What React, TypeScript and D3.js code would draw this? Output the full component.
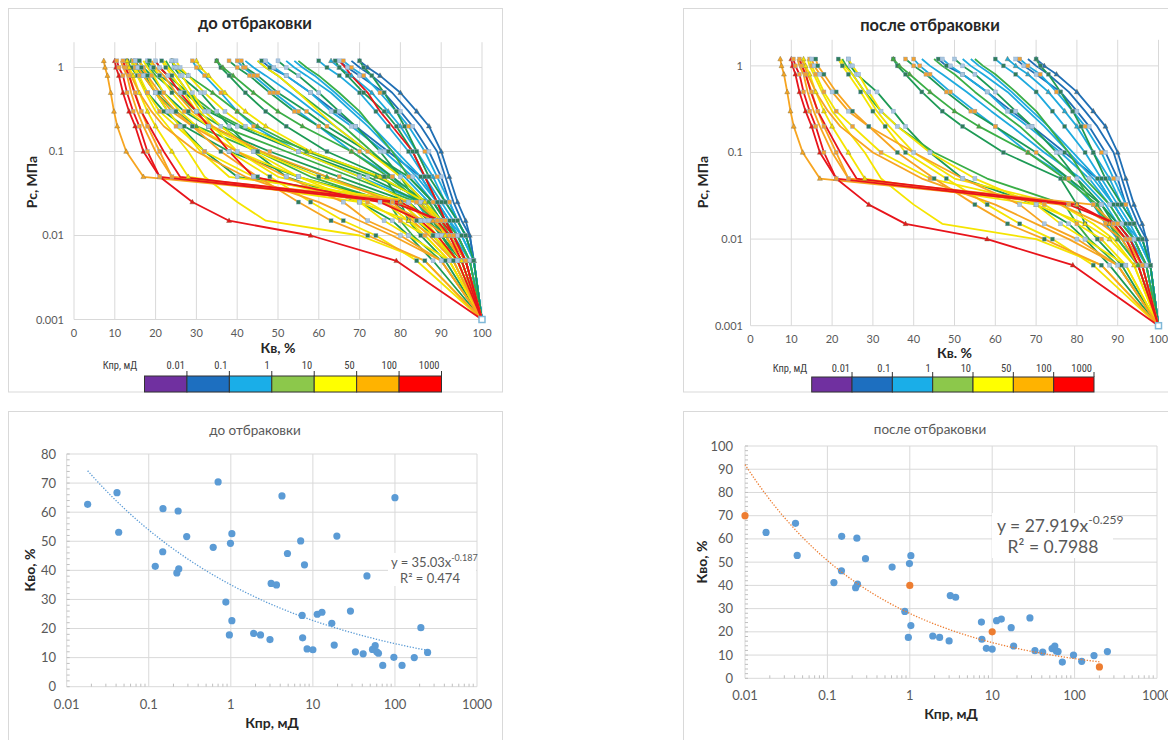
import React from "react";
import * as d3 from "d3";

// ---------------- DATA ----------------
const P_LEVELS = [1.2, 1, 0.8, 0.5, 0.3, 0.2, 0.1, 0.05, 0.025, 0.015, 0.01, 0.005, 0.001];
const KV_TICKS = [0, 10, 20, 30, 40, 50, 60, 70, 80, 90, 100];
const PC_TICKS = [1, 0.1, 0.01, 0.001];
const KPR_CLASS_LABELS = ["0.01", "0.1", "1", "10", "50", "100", "1000"];

// permeability class: 1 dark blue, 2 light blue, 3 green, 4 yellow, 5 orange, 6 red
const KEPT_CURVE_CLASS = [
  1, 1, 1, 1,
  2, 2, 2, 2, 2, 2, 2, 2,
  3, 3, 3, 3, 3, 3, 3, 3, 3,
  4, 4, 4, 4, 4, 4,
  5, 5, 5, 5, 5, 5,
  6, 6, 6,
];
const KEPT_CURVE_KV = [
  [65, 67, 70, 76, 80, 83, 87, 90, 92, 94, 96, 98, 100],
  [68, 70, 73, 78, 82, 85, 89, 91, 93, 95, 97, 98, 100],
  [46, 48, 52, 58, 64, 69, 77, 85, 89, 92, 94, 97, 100],
  [70, 72, 75, 80, 84, 87, 90, 92, 94, 96, 97, 98, 100],
  [40, 41.5, 44, 49, 55, 60, 68, 78, 84, 87, 90, 95, 100],
  [42, 44, 47, 53, 59, 64, 72, 81, 87, 90, 93, 97, 100],
  [47, 49, 52, 58, 63, 68, 76, 83, 88, 91, 94, 97, 100],
  [52, 54, 57, 63, 68, 72, 78, 84, 89, 92, 95, 98, 100],
  [60, 62, 65, 70, 74, 77, 82, 86, 90, 93, 95, 98, 100],
  [63, 65, 68, 73, 77, 80, 84, 88, 91, 94, 96, 98, 100],
  [66, 68, 71, 75, 79, 82, 86, 89, 92, 94, 96, 98, 100],
  [54, 56, 59, 64, 69, 73, 79, 85, 89, 92, 94, 97, 100],
  [24, 24.5, 26, 31, 35, 38, 44, 52, 70, 78, 82, 88, 100],
  [22.5, 23.5, 25, 28, 32, 36, 45, 58, 77, 80, 83, 90, 100],
  [35, 36, 38, 42, 47, 52, 62, 76, 80, 82, 85, 91, 100],
  [35, 36.5, 39, 44, 50, 56, 68, 77, 85, 88, 90, 95, 100],
  [38, 40, 43, 48, 54, 60, 70, 78, 86, 90, 93, 96, 100],
  [45, 47, 50, 55, 61, 66, 73, 80, 84, 88, 91, 95, 100],
  [50, 52, 55, 60, 65, 69, 75, 80, 86, 89, 92, 96, 100],
  [55, 57, 60, 65, 70, 73, 78, 82, 88, 91, 94, 97, 100],
  [70, 71, 73, 76, 79, 81, 84, 87, 91, 94, 96, 98, 100],
  [13, 13.5, 14.5, 16, 18, 20, 24, 28, 70, 82, 88, 94, 100],
  [14.5, 15, 16, 18, 21, 25, 32, 44, 72, 80, 86, 92, 100],
  [22, 23, 25, 28, 31, 34, 40, 50, 76, 84, 89, 94, 100],
  [24, 25, 26.5, 29, 32, 36, 44, 55, 70, 76, 82, 92, 100],
  [14, 14.5, 15.5, 17.5, 20, 23, 28, 32, 40, 47, 70, 86, 100],
  [21.5, 22.5, 24, 27, 30, 33, 38, 48, 58, 66, 74, 84, 100],
  [7.3, 7.6, 8.2, 9, 9.8, 10.6, 12.8, 17, 80, 88, 92, 96, 100],
  [12, 12.5, 13.5, 15, 16.5, 18, 21, 24, 84, 89, 92, 96, 100],
  [12.5, 13.2, 14, 16, 19, 22, 30, 42, 60, 70, 78, 90, 100],
  [15, 15.6, 17, 20, 24, 29, 40, 52, 66, 72, 80, 90, 100],
  [11.5, 12, 13, 14, 15.5, 17, 20, 24, 76, 86, 91, 95, 100],
  [16, 16.5, 18, 21, 25, 29, 36, 45, 55, 63, 72, 86, 100],
  [10, 10.3, 11, 12, 13.5, 15, 17, 21, 29, 38, 58, 79, 100],
  [10.5, 11, 12, 13, 14.5, 16, 18, 21, 78, 90, 93, 96, 100],
  [12, 12.6, 13.5, 14.8, 16.5, 18.5, 22, 26, 80, 89, 92, 95, 100],
];

const REJECTED_CURVE_CLASS = [6, 6, 3, 3, 3, 3, 3, 4, 4, 3, 2, 3, 4, 5, 3, 4, 3, 4, 3, 4];
const REJECTED_CURVE_KV = [
  [20, 21, 23, 26, 30, 33, 38, 44, 75, 85, 89, 94, 100],
  [65, 66.5, 68, 72, 75, 78, 83, 86, 89, 91, 93, 96, 100],
  [13, 14, 15.5, 18, 22, 27, 38, 55, 78, 84, 88, 93, 100],
  [14, 15, 17, 20, 25, 30, 45, 62, 80, 85, 88, 94, 100],
  [16, 17, 19, 22, 27, 33, 48, 65, 82, 87, 90, 95, 100],
  [17.5, 18.5, 20, 25, 30, 36, 52, 68, 84, 88, 91, 95, 100],
  [18, 19, 21, 27, 33, 40, 55, 72, 85, 88, 91, 95, 100],
  [17, 18, 19.5, 22, 26, 30, 40, 55, 76, 82, 86, 92, 100],
  [18.5, 19.5, 21, 24, 28, 33, 45, 60, 80, 85, 88, 93, 100],
  [24, 25, 28, 34, 40, 45, 57, 74, 87, 90, 92, 96, 100],
  [29, 30, 32, 36, 40, 44, 55, 70, 85, 89, 92, 96, 100],
  [20, 21, 23, 28, 34, 41, 58, 75, 86, 89, 92, 96, 100],
  [25, 26, 28, 32, 37, 42, 55, 70, 82, 86, 89, 94, 100],
  [19, 20, 22, 25, 29, 34, 46, 62, 78, 83, 87, 93, 100],
  [64, 65, 67, 71, 76, 79, 83, 86, 89, 91, 93, 96, 100],
  [30, 31, 33, 37, 42, 47, 58, 75, 86, 89, 91, 95, 100],
  [41, 42, 45, 50, 57, 62, 72, 82, 88, 91, 93, 96, 100],
  [45, 47, 50, 55, 60, 64, 72, 80, 86, 90, 93, 96, 100],
  [15, 16, 17.5, 20, 23, 26, 32, 40, 82, 87, 90, 94, 100],
  [16, 17, 18, 20, 23, 26, 31, 38, 85, 89, 91, 95, 100],
];

const KPR_TICKS = [0.01, 0.1, 1, 10, 100, 1000];
const KVO_TICKS_BEFORE = [0, 10, 20, 30, 40, 50, 60, 70, 80];
const KVO_TICKS_AFTER = [0, 10, 20, 30, 40, 50, 60, 70, 80, 90, 100];

const BEFORE_KPR = [0.018, 0.041, 0.043, 0.12, 0.149, 0.148, 0.228, 0.22, 0.232, 0.29, 0.61, 0.7, 0.87, 0.99, 1.03, 1.03, 0.96, 1.9, 2.3, 3.0, 3.1, 3.6, 4.2, 4.9, 7.1, 7.9, 7.4, 7.5, 8.5, 10, 11.3, 12.9, 17, 18.2, 19.6, 28.7, 33, 41, 45.6, 53.3, 57.5, 60, 63, 71, 97, 100, 122, 172, 207, 250];
const BEFORE_KVO = [62.7, 66.7, 53.1, 41.4, 61.2, 46.4, 60.4, 39.1, 40.5, 51.6, 47.9, 70.4, 29.1, 49.3, 52.6, 22.7, 17.8, 18.3, 17.8, 16.2, 35.5, 35.0, 65.6, 45.8, 50.1, 41.9, 24.5, 16.8, 13.0, 12.7, 24.9, 25.6, 21.8, 14.3, 51.8, 26.0, 12.0, 11.3, 38.1, 12.8, 14.1, 12.0, 11.5, 7.3, 10.1, 65.0, 7.3, 10.0, 20.3, 11.8];

const AFTER_KPR = [0.018, 0.041, 0.043, 0.12, 0.149, 0.148, 0.228, 0.22, 0.232, 0.29, 0.61, 0.87, 0.99, 1.03, 1.03, 0.96, 1.9, 2.3, 3.0, 3.1, 3.6, 7.4, 7.5, 8.5, 10, 11.3, 12.9, 17, 18.2, 28.7, 33, 41, 53.3, 57.5, 60, 63, 71, 97, 122, 172, 250];
const AFTER_KVO = [62.8, 66.7, 52.9, 41.2, 61.1, 46.3, 60.3, 39.0, 40.5, 51.5, 47.9, 28.8, 49.4, 52.8, 22.7, 17.6, 18.2, 17.6, 16.1, 35.6, 34.9, 24.2, 16.8, 12.9, 12.6, 24.8, 25.5, 21.8, 13.9, 26.0, 11.9, 11.3, 12.8, 13.9, 11.8, 11.5, 7.0, 10.0, 7.3, 9.8, 11.5];
const ADDED_KPR = [0.01, 1, 10, 200];
const ADDED_KVO = [70, 40, 20, 4.9];

const BEFORE_TREND = { a: 35.03, b: -0.187, from: 0.018, to: 250 };
const AFTER_TREND = { a: 27.919, b: -0.259, from: 0.01, to: 200 };

// ---------------- STYLE ----------------
const FONT = "Lato, 'Open Sans', 'Liberation Sans', sans-serif";
const NARROW = "'Liberation Sans Narrow', 'Roboto Condensed', Lato, sans-serif";
const GRID = "#d9d9d9";
const LABEL = "#595959";
const TITLE = "#262626";
const BAR_FILL = ["#7030a0", "#1d6fc0", "#1aaee8", "#8cc84b", "#ffff00", "#ffb300", "#ff0000"];

function lineColor(cls: number, i: number) {
  switch (cls) {
    case 1: return "#1f6fb5";
    case 2: return "#1eaade";
    case 3: return i % 2 === 0 ? "#1d9a55" : "#3aae46";
    case 4: return "#f5e400";
    case 5: return "#f7a520";
    default: return "#e8141b";
  }
}
const MARKER_FILLS = ["#a9c6e0", null, "#2f7d5a", "tri", "#f0a032", null];

type Curve = { cls: number; kv: number[] };

function CurvePanel(props: {
  frame: [number, number, number, number];
  x0: number; x1: number; yTop: number; yBot: number;
  title: string; titleX: number; titleY: number;
  xTitle: string; xTitleY: number; xLabelY: number; yLabelX: number;
  yTitleX: number; yTitleY: number;
  bar: { x0: number; x1: number; y0: number; y1: number; labelY: number; kprX: number };
  curves: Curve[];
}) {
  const p = props;
  const x = d3.scaleLinear().domain([0, 100]).range([p.x0, p.x1]);
  const y = d3.scaleLog().domain([0.001, 2]).range([p.yBot, p.yTop]);
  const line = d3.line<[number, number]>().x((d) => x(d[0])).y((d) => y(d[1]));
  const order = d3.range(p.curves.length).sort((a, b) => p.curves[a].cls - p.curves[b].cls);
  const band = d3.scaleBand<number>().domain(d3.range(7)).range([p.bar.x0, p.bar.x1]);
  const bw = band.bandwidth();
  return (
    <g>
      <rect x={p.frame[0]} y={p.frame[1]} width={p.frame[2]} height={p.frame[3]} fill="#fff" stroke="#d9d9d9" />
      <text x={p.titleX} y={p.titleY} textAnchor="middle" fontSize={16.5} fontWeight="bold" fill={TITLE} fontFamily={FONT}>{p.title}</text>
      {KV_TICKS.map((t) => (
        <line key={"vx" + t} x1={x(t)} x2={x(t)} y1={p.yTop} y2={p.yBot} stroke={GRID} />
      ))}
      {PC_TICKS.map((t) => (
        <line key={"hy" + t} x1={p.x0} x2={p.x1} y1={y(t)} y2={y(t)} stroke={GRID} />
      ))}
      {KV_TICKS.map((t) => (
        <text key={"lx" + t} x={x(t)} y={p.xLabelY} textAnchor="middle" fontSize={11} fill={LABEL} fontFamily={FONT}>{t}</text>
      ))}
      {PC_TICKS.map((t) => (
        <text key={"ly" + t} x={p.yLabelX} y={y(t) + 4} textAnchor="end" fontSize={11} fill={LABEL} fontFamily={FONT}>{t}</text>
      ))}
      {order.map((i) => {
        const c = p.curves[i];
        const pts = c.kv.map((v, j) => [v, P_LEVELS[j]] as [number, number]);
        return <path key={"c" + i} d={line(pts) || ""} fill="none" stroke={lineColor(c.cls, i)} strokeWidth={1.8} strokeLinejoin="round" />;
      })}
      {order.map((i) => {
        const c = p.curves[i];
        const m = MARKER_FILLS[i % MARKER_FILLS.length];
        if (!m) return null;
        return (
          <g key={"m" + i}>
            {c.kv.slice(0, -1).map((v, j) => {
              const cx = x(v), cy = y(P_LEVELS[j]);
              if (m === "tri") {
                return <path key={j} d={`M${cx},${cy - 2.8}L${cx + 2.5},${cy + 1.8}L${cx - 2.5},${cy + 1.8}Z`} fill={lineColor(c.cls, i)} stroke="#7a6a40" strokeWidth={0.4} />;
              }
              return <rect key={j} x={cx - 2} y={cy - 2} width={4} height={4} fill={m} stroke="#8aa8c8" strokeWidth={0.4} />;
            })}
          </g>
        );
      })}
      <rect x={x(100) - 3} y={y(0.001) - 3} width={6} height={6} fill="#fff" stroke="#7fb8d8" strokeWidth={1.5} />
      <text x={(p.x0 + p.x1) / 2} y={p.xTitleY} textAnchor="middle" fontSize={14} fontWeight="bold" fill={TITLE} fontFamily={FONT}>{p.xTitle}</text>
      <text transform={`translate(${p.yTitleX},${p.yTitleY}) rotate(-90)`} textAnchor="middle" fontSize={14} fontWeight="bold" fill={TITLE} fontFamily={FONT}>Рс, МПа</text>
      <text x={p.bar.kprX} y={p.bar.labelY} textAnchor="middle" fontSize={10.5} fill="#404040" fontFamily={NARROW}>Кпр, мД</text>
      {KPR_CLASS_LABELS.map((l, i) => (
        <g key={"b" + i}>
          <rect x={band(i)!} y={p.bar.y0} width={bw} height={p.bar.y1 - p.bar.y0} fill={BAR_FILL[i]} stroke="#333" strokeWidth={1} />
          <line x1={band(i)! + bw} x2={band(i)! + bw} y1={p.bar.y0 - 5} y2={p.bar.y0} stroke="#333" strokeWidth={1} />
          <text x={band(i)! + bw - 2} y={p.bar.labelY} textAnchor="end" fontSize={10.5} fill="#404040" fontFamily={NARROW}>{l}</text>
        </g>
      ))}
    </g>
  );
}

function ScatterPanel(props: {
  frame: [number, number, number, number];
  x0: number; x1: number; yTop: number; yBot: number; yMax: number; yTicks: number[];
  title: string; titleX: number; titleY: number;
  xLabelY: number; yLabelX: number; xTitleX: number; xTitleY: number; yTitleX: number; yTitleY: number;
  kpr: number[]; kvo: number[]; addKpr?: number[]; addKvo?: number[];
  trend: { a: number; b: number; from: number; to: number }; trendColor: string;
  eq: { x: number; y: number; size: number; supSize: number; bg: [number, number, number, number]; rX: number; rY: number; a: string; b: string; r2: string };
}) {
  const p = props;
  const x = d3.scaleLog().domain([0.01, 1000]).range([p.x0, p.x1]);
  const y = d3.scaleLinear().domain([0, p.yMax]).range([p.yBot, p.yTop]);
  const trendPts = d3.range(0, 201).map((k) => {
    const lx = Math.log10(p.trend.from) + (k / 200) * (Math.log10(p.trend.to) - Math.log10(p.trend.from));
    const xv = Math.pow(10, lx);
    return [xv, p.trend.a * Math.pow(xv, p.trend.b)] as [number, number];
  });
  const line = d3.line<[number, number]>().x((d) => x(d[0])).y((d) => y(d[1]));
  const minor: number[] = [];
  [0.01, 0.1, 1, 10, 100].forEach((d) => { for (let k = 2; k <= 9; k++) minor.push(d * k); });
  const minorY = d3.range(0, p.yMax + 0.01, 2);
  return (
    <g>
      <rect x={p.frame[0]} y={p.frame[1]} width={p.frame[2]} height={p.frame[3]} fill="#fff" stroke="#d9d9d9" />
      <text x={p.titleX} y={p.titleY} textAnchor="middle" fontSize={13.5} fill={LABEL} fontFamily={FONT}>{p.title}</text>
      {p.yTicks.map((t) => (
        <line key={"h" + t} x1={p.x0} x2={p.x1} y1={y(t)} y2={y(t)} stroke={GRID} />
      ))}
      {KPR_TICKS.map((t) => (
        <line key={"v" + t} x1={x(t)} x2={x(t)} y1={p.yTop} y2={p.yBot} stroke={GRID} />
      ))}
      {minor.map((t) => (
        <line key={"mx" + t} x1={x(t)} x2={x(t)} y1={p.yBot} y2={p.yBot - 3} stroke="#bfbfbf" />
      ))}
      {minorY.map((t) => (
        <line key={"my" + t} x1={p.x0} x2={p.x0 + 3} y1={y(t)} y2={y(t)} stroke="#bfbfbf" />
      ))}
      {p.yTicks.map((t) => (
        <text key={"ly" + t} x={p.yLabelX} y={y(t) + 4.5} textAnchor="end" fontSize={13} fill={LABEL} fontFamily={FONT}>{t}</text>
      ))}
      {KPR_TICKS.map((t) => (
        <text key={"lx" + t} x={x(t)} y={p.xLabelY} textAnchor="middle" fontSize={13} fill={LABEL} fontFamily={FONT}>{t}</text>
      ))}
      <rect x={p.eq.bg[0]} y={p.eq.bg[1]} width={p.eq.bg[2]} height={p.eq.bg[3]} fill="#fff" />
      {p.kpr.map((k, i) => (
        <circle key={"p" + i} cx={x(k)} cy={y(p.kvo[i])} r={3.6} fill="#5b9bd5" />
      ))}
      {(p.addKpr || []).map((k, i) => (
        <circle key={"a" + i} cx={x(k)} cy={y((p.addKvo || [])[i])} r={3.6} fill="#ed7d31" />
      ))}
      <path d={line(trendPts) || ""} fill="none" stroke={p.trendColor} strokeWidth={1.3} strokeDasharray="1.3 1.6" />
      <text x={p.eq.x} y={p.eq.y} fontSize={p.eq.size} fill={LABEL} fontFamily={FONT}>
        {p.eq.a}
        <tspan fontSize={p.eq.supSize} dy={-p.eq.size * 0.45}>{p.eq.b}</tspan>
      </text>
      <text x={p.eq.rX} y={p.eq.rY} textAnchor="middle" fontSize={p.eq.size} fill={LABEL} fontFamily={FONT}>{p.eq.r2}</text>
      <text x={p.xTitleX} y={p.xTitleY} textAnchor="middle" fontSize={14} fontWeight="bold" fill={TITLE} fontFamily={FONT}>Кпр, мД</text>
      <text transform={`translate(${p.yTitleX},${p.yTitleY}) rotate(-90)`} textAnchor="middle" fontSize={14} fontWeight="bold" fill={TITLE} fontFamily={FONT}>Кво, %</text>
    </g>
  );
}

const keptCurves: Curve[] = KEPT_CURVE_KV.map((kv, i) => ({ cls: KEPT_CURVE_CLASS[i], kv }));
const rejectedCurves: Curve[] = REJECTED_CURVE_KV.map((kv, i) => ({ cls: REJECTED_CURVE_CLASS[i], kv }));
const allCurves: Curve[] = [...keptCurves, ...rejectedCurves];

export default function App() {
  return (
    <svg width={1168} height={740} style={{ position: "absolute", left: 0, top: 0, background: "#fff" }}>
      <CurvePanel
        frame={[8.5, 8.5, 494, 383.5]}
        x0={74} x1={482} yTop={42.2} yBot={319.5}
        title="до отбраковки" titleX={255} titleY={29}
        xTitle="Кв, %" xTitleY={353} xLabelY={337} yLabelX={64}
        yTitleX={37} yTitleY={182}
        bar={{ x0: 144.5, x1: 441.5, y0: 376, y1: 392, labelY: 369, kprX: 120 }}
        curves={allCurves}
      />
      <CurvePanel
        frame={[683.5, 8.5, 500, 383.5]}
        x0={750.5} x1={1158.5} yTop={39.8} yBot={325.7}
        title="после отбраковки" titleX={930} titleY={31}
        xTitle="Кв. %" xTitleY={358} xLabelY={343} yLabelX={743}
        yTitleX={708} yTitleY={182}
        bar={{ x0: 811.7, x1: 1094, y0: 377, y1: 392, labelY: 372, kprX: 790 }}
        curves={keptCurves}
      />
      <ScatterPanel
        frame={[8.5, 411.5, 494, 340]}
        x0={66.7} x1={477} yTop={454} yBot={686.7} yMax={80} yTicks={KVO_TICKS_BEFORE}
        title="до отбраковки" titleX={255} titleY={435}
        xLabelY={709} yLabelX={56} xTitleX={272} xTitleY={728} yTitleX={35} yTitleY={570}
        kpr={BEFORE_KPR} kvo={BEFORE_KVO}
        trend={BEFORE_TREND} trendColor="#5b9bd5"
        eq={{ x: 391, y: 567, size: 13, supSize: 9, bg: [388, 553, 88, 33], rX: 430, rY: 583, a: "y = 35.03x", b: "-0.187", r2: "R² = 0.474" }}
      />
      <ScatterPanel
        frame={[683.5, 411.5, 500, 340]}
        x0={745} x1={1157} yTop={446} yBot={678.3} yMax={100} yTicks={KVO_TICKS_AFTER}
        title="после отбраковки" titleX={930} titleY={434}
        xLabelY={700} yLabelX={733} xTitleX={951} xTitleY={719} yTitleX={707} yTitleY={562}
        kpr={AFTER_KPR} kvo={AFTER_KVO} addKpr={ADDED_KPR} addKvo={ADDED_KVO}
        trend={AFTER_TREND} trendColor="#ed7d31"
        eq={{ x: 997, y: 532, size: 17.5, supSize: 12, bg: [992, 513, 121, 45], rX: 1053, rY: 553, a: "y = 27.919x", b: "-0.259", r2: "R² = 0.7988" }}
      />
    </svg>
  );
}
